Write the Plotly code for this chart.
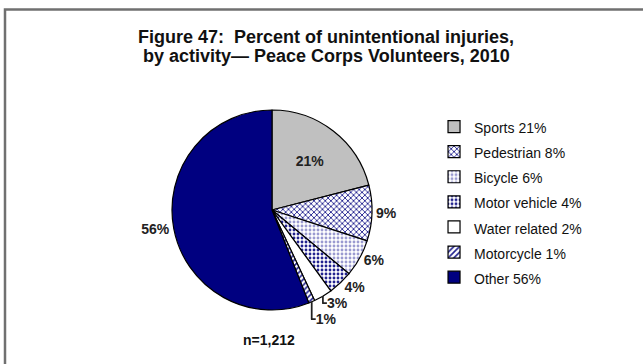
import plotly.graph_objects as go

categories = ["Sports 21%", "Pedestrian 8%", "Bicycle 6%", "Motor vehicle 4%",
              "Water related 2%", "Motorcycle 1%", "Other 56%"]
slice_values = [21, 9, 6, 4, 3, 1, 56]
title_line1 = "Figure 47:  Percent of unintentional injuries,"
title_line2 = "by activity\u2014 Peace Corps Volunteers, 2010"
n_text = "n=1,212"

FONT = "Liberation Sans, Arial, sans-serif"

colors = ["#c0c0c0", "#8080cc", "#e6e6f6", "#b4b4e4", "#ffffff", "#ffffff", "#000080"]
shapes = ["", "x", ".", ".", "", "/", ""]
fg = ["#000000", "#22228f", "#9a9ad0", "#22228f", "#000000", "#22228f", "#000000"]
textpos = ["inside", "outside", "outside", "outside", "outside", "outside", "outside"]

legend_labels = ['<span style="font-size:14px">%s</span>' % c for c in categories]

fig = go.Figure(go.Pie(
    labels=legend_labels,
    values=slice_values,
    sort=False,
    direction="clockwise",
    rotation=0,
    texttemplate="%{value}%",
    textposition=textpos,
    textfont=dict(family=FONT, size=14, color="#222222", weight="bold"),
    insidetextorientation="horizontal",
    marker=dict(
        colors=colors,
        line=dict(color="#000000", width=1.2),
        pattern=dict(shape=shapes, fgcolor=fg, size=4, solidity=0.4, fillmode="replace"),
    ),
    domain=dict(x=[172/643, 372/643], y=[1-310/364, 1-110/364]),
    hoverinfo="skip",
    showlegend=True,
))

fig.update_layout(
    width=643, height=364,
    margin=dict(l=0, r=0, t=0, b=0),
    paper_bgcolor="#ffffff",
    plot_bgcolor="#ffffff",
    font=dict(family=FONT, color="#111111"),
    legend=dict(
        x=0.675, y=1-109/364, xanchor="left", yanchor="top",
        font=dict(family=FONT, size=17, color="#111111"),
        itemwidth=30,
        bgcolor="rgba(0,0,0,0)",
    ),
    shapes=[dict(type="rect", xref="paper", yref="paper",
                 x0=5/643, y0=-0.05, x1=1.05, y1=1-9.5/364,
                 line=dict(color="#707070", width=2.5))],
    annotations=[
        dict(text="<b>" + title_line1 + "</b>", x=326/643, y=1-37/364, xref="paper", yref="paper",
             xanchor="center", yanchor="middle", showarrow=False,
             font=dict(family=FONT, size=18, color="#111111")),
        dict(text="<b>" + title_line2 + "</b>", x=326/643, y=1-56/364, xref="paper", yref="paper",
             xanchor="center", yanchor="middle", showarrow=False,
             font=dict(family=FONT, size=18, color="#111111")),
        dict(text="<b>" + n_text + "</b>", x=269/643, y=1-340/364, xref="paper", yref="paper",
             xanchor="center", yanchor="middle", showarrow=False,
             font=dict(family=FONT, size=14, color="#111111")),
    ],
)

fig.write_html("out.html", config={"displayModeBar": False},
               post_script="document.body.style.margin='0px';")
